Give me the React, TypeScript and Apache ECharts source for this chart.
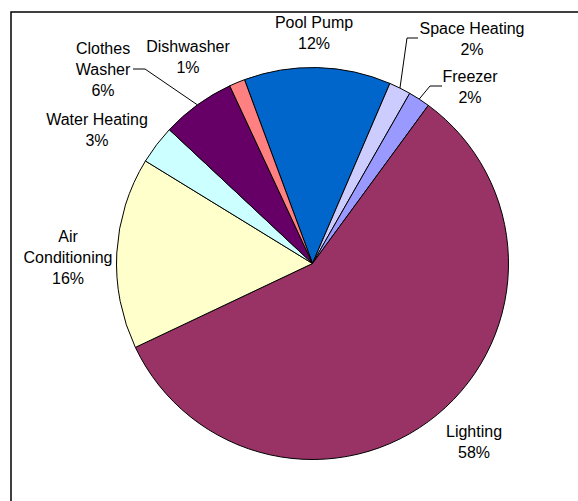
import React, { useEffect, useRef } from "react";
import * as echarts from "echarts";

const categories = ["Pool Pump", "Space Heating", "Freezer", "Lighting", "Air Conditioning", "Water Heating", "Clothes Washer", "Dishwasher"];
const labelNames = ["Pool Pump", "Space Heating", "Freezer", "Lighting", "Air\nConditioning", "Water Heating", "Clothes\nWasher", "Dishwasher"];
const values = [12.1, 1.8, 1.8, 57.9, 15.8, 3.2, 6.1, 1.3];
const colors = ["#0066CC", "#CCCCFF", "#9999FF", "#993366", "#FFFFCC", "#CCFFFF", "#660066", "#FF8080"];

// label placement (center of text block) and leader-line elbows
const labelPos: [number, number][] = [
  [314, 33], [472, 39], [470, 87], [474, 442], [68, 257], [97, 130], [103, 69], [188, 57],
];
const leaderElbows: ([number, number][] | null)[] = [
  null,
  [[407, 38], [418, 38]],
  [[430, 86], [442, 86]],
  null,
  null,
  null,
  [[145, 69], [133, 69]],
  null,
];

export default function App() {
  const ref = useRef<HTMLDivElement>(null);
  useEffect(() => {
    if (!ref.current) return;
    const chart = echarts.init(ref.current, undefined, { renderer: "svg" });
    chart.setOption({
      animation: false,
      backgroundColor: "#ffffff",
      graphic: [
        {
          type: "rect",
          shape: { x: 11, y: 12, width: 700, height: 700 },
          style: { fill: "none", stroke: "#000", lineWidth: 1.5 },
          silent: true,
        },
      ],
      series: [
        {
          type: "pie",
          center: [312.5, 263.5],
          radius: 196,
          startAngle: 110.3,
          clockwise: true,
          avoidLabelOverlap: false,
          itemStyle: { borderColor: "#000", borderWidth: 1 },
          label: {
            show: true,
            position: "outside",
            color: "#000",
            fontFamily: "Liberation Sans, Arial, sans-serif",
            fontSize: 16,
            lineHeight: 21,
            align: "center",
            formatter: (p: any) => labelNames[p.dataIndex] + "\n" + Math.round(p.percent) + "%",
          },
          labelLine: { show: true, lineStyle: { color: "#000", width: 1 } },
          labelLayout: (params: any) => {
            const i = params.dataIndex;
            const res: any = {
              x: labelPos[i][0],
              y: labelPos[i][1],
              align: "center",
              verticalAlign: "middle",
            };
            const el = leaderElbows[i];
            if (el && params.labelLinePoints) {
              res.labelLinePoints = [params.labelLinePoints[0], el[0], el[1]];
            }
            return res;
          },
          data: categories.map((name, i) => ({
            name,
            value: values[i],
            itemStyle: { color: colors[i] },
            labelLine: { show: !!leaderElbows[i] },
          })),
        },
      ],
    });
    return () => chart.dispose();
  }, []);
  return <div ref={ref} style={{ position: "fixed", left: 0, top: 0, width: 578, height: 501 }} />;
}
